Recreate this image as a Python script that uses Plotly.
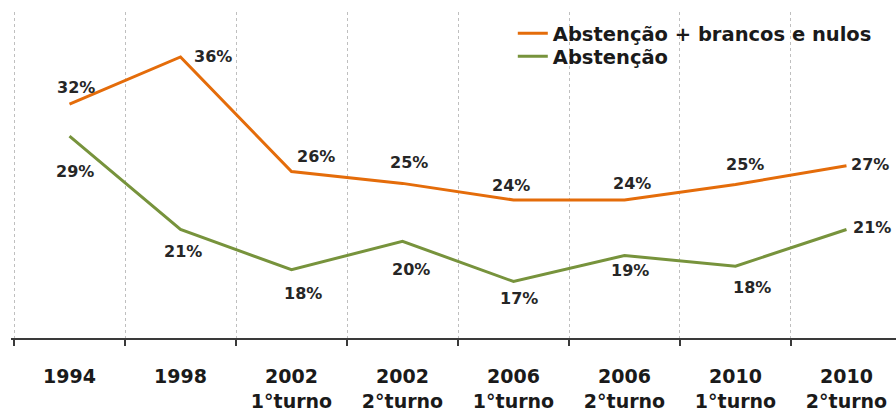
import plotly.graph_objects as go

# Election rounds and their abstention shares (%)
categories = ["1994", "1998", "2002<br>1°turno", "2002<br>2°turno",
              "2006<br>1°turno", "2006<br>2°turno", "2010<br>1°turno", "2010<br>2°turno"]
abst_brancos_nulos = [32.0, 36.0, 26.3, 25.3, 23.9, 23.9, 25.2, 26.8]
abstencao = [29.3, 21.4, 18.0, 20.4, 17.0, 19.2, 18.3, 21.4]

series_names = ["Abstenção + brancos e nulos", "Abstenção"]
series_colors = ["#E46C0A", "#77933C"]
legend_ids = ["legend", "legend2"]

# label offsets in pixels (xshift, yshift) for each point
orange_shift = [(6, 17), (32, 0), (24, 15), (6, 21), (-3, 14), (8, 16), (10, 20), (24, 1)]
green_shift = [(5, -35), (2, -22), (11, -24), (8, -28), (5, -17), (6, -15), (17, -21), (26, 2)]

FONT = "DejaVu Sans"
x = list(range(len(categories)))

fig = go.Figure()
for name, vals, col, lg in zip(series_names, [abst_brancos_nulos, abstencao], series_colors, legend_ids):
    fig.add_trace(go.Scatter(x=x, y=vals, mode="lines", name=name, legend=lg,
                             line=dict(color=col, width=3), hoverinfo="skip"))

annotations = []
for vals, shifts in [(abst_brancos_nulos, orange_shift), (abstencao, green_shift)]:
    for xi, v, (dx, dy) in zip(x, vals, shifts):
        annotations.append(dict(x=xi, y=v, xref="x", yref="y", text=f"<b>{v:.0f}%</b>",
                                showarrow=False, xshift=dx, yshift=dy,
                                font=dict(family=FONT, size=16, color="#262626")))

legend_font = dict(family=FONT, size=19.5, color="#1a1a1a", weight="bold")
legend_common = dict(x=0.567, xanchor="left", yanchor="top", font=legend_font,
                     bgcolor="rgba(0,0,0,0)", itemwidth=30)

fig.update_layout(
    width=896, height=412,
    margin=dict(l=11, r=0, t=12, b=72),
    paper_bgcolor="white", plot_bgcolor="white",
    showlegend=True,
    legend=dict(y=0.994, **legend_common),
    legend2=dict(y=0.923, **legend_common),
    annotations=annotations,
    xaxis=dict(
        range=[-0.527, 7.446], tickmode="array", tickvals=x, ticktext=categories,
        ticks="", showgrid=False, zeroline=False,
        showline=True, linecolor="#3a3a3a", linewidth=2,
        tickfont=dict(family=FONT, size=19, color="#1a1a1a", weight="bold"),
        ticklabelstandoff=20,
        minor=dict(tickmode="linear", tick0=-0.5, dtick=1, ticks="outside",
                   ticklen=6, tickwidth=2, tickcolor="#3a3a3a",
                   showgrid=True, gridcolor="#BFBFBF", griddash="dot", gridwidth=1),
    ),
    yaxis=dict(range=[12.22, 39.8], visible=False, showgrid=False, zeroline=False),
)

fig.write_html("out.html")
